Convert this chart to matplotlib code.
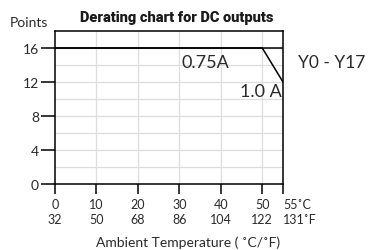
import numpy as np
import matplotlib
matplotlib.use("Agg")
import matplotlib.pyplot as plt

# data
temp_c = [0, 10, 20, 30, 40, 50, 55]
temp_f = [32, 50, 68, 86, 104, 122, 131]
points_ticks = [0, 4, 8, 12, 16]

# derating curves
line_075_x = [0, 55]
line_075_y = [16, 16]
line_10_x = [0, 50, 55]
line_10_y = [16, 16, 12]

txt = "#2a2a2a"
plt.rcParams['font.family'] = ['Lato', 'DejaVu Sans']

fig = plt.figure(figsize=(3.8, 2.51), dpi=100)
ax = fig.add_axes([55 / 380, 1 - 185 / 251, 228 / 380, 153 / 251])

# light grid
for x in temp_c[1:-1]:
    ax.axvline(x, color="#dddddd", lw=0.9, zorder=0)
for y in np.arange(2, 18, 2):
    ax.axhline(y, color="#dddddd", lw=0.9, zorder=0)

ax.plot(line_075_x, line_075_y, color="black", lw=1.1)
ax.plot(line_10_x, line_10_y, color="black", lw=1.1)

ax.set_xlim(0, 55)
ax.set_ylim(0, 18)

for s in ax.spines.values():
    s.set_color("black")
    s.set_linewidth(1.1)

ax.set_yticks(points_ticks)
ax.set_yticklabels([str(v) for v in points_ticks], fontsize=10, color=txt)
ax.tick_params(axis="y", length=10, width=1.1, direction="out", pad=1.5)

ax.set_xticks(temp_c)
labels = [f"{c}\n{f}" for c, f in zip(temp_c[:-1], temp_f[:-1])]
labels.append(f"{temp_c[-1]}˚C\n{temp_f[-1]}˚F")
ax.set_xticklabels(labels, fontsize=9, color=txt, linespacing=1.3)
ax.tick_params(axis="x", length=7, width=1.1, direction="out", pad=3)
last = ax.get_xticklabels()[-1]
last.set_horizontalalignment("left")
last.set_multialignment("left")

ax.text(30.5, 14.4, "0.75A", fontsize=13, color=txt, va="center", ha="left")
ax.text(54.8, 10.9, "1.0 A", fontsize=13, color=txt, va="center", ha="right")

fig.text(298 / 380, 1 - 63 / 251, "Y0 - Y17", fontsize=12.5, color=txt, va="center", ha="left")
fig.text(10 / 380, 1 - 23 / 251, "Points", fontsize=10, color=txt, va="center", ha="left")
fig.text(177 / 380, 1 - 18 / 251, "Derating chart for DC outputs",
         family=["Roboto", "DejaVu Sans"], fontweight="black", fontsize=10.5,
         color="#1a1a1a", va="center", ha="center")
fig.text(188 / 380, 1 - 243 / 251, "Ambient Temperature ( ˚C/˚F)", fontsize=10,
         color=txt, va="center", ha="center")

fig.savefig("out.png", dpi=100)
